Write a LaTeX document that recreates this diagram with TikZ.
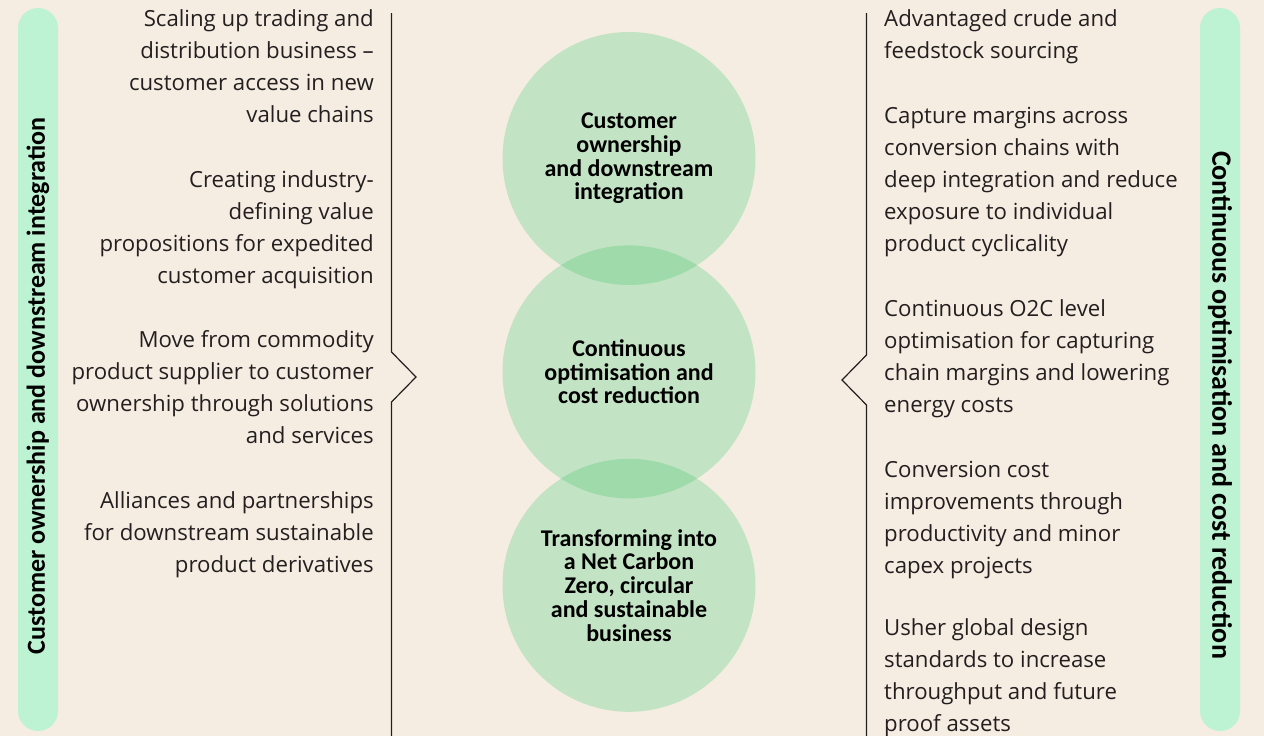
\documentclass[tikz,border=0pt]{standalone}
\usepackage{fontspec}
\setmainfont{Carlito}
\newfontfamily\bodyfont{Open Sans}
\usetikzlibrary{positioning}

\definecolor{paper}{RGB}{245,237,225}
\definecolor{mint}{RGB}{189,242,211}
\definecolor{leaf}{RGB}{195,228,196}
\definecolor{leafdark}{RGB}{158,218,170}
\definecolor{ink}{RGB}{35,31,32}

\begin{document}
\begin{tikzpicture}[x=1pt, y=1pt,
  bubble/.style={circle, fill=leaf, minimum size=253pt, inner sep=0pt, align=center,
    font=\fontsize{24}{23.7}\selectfont\bfseries},
  sidetxt/.style={text=ink, inner sep=0pt, font=\bodyfont\fontsize{22.2}{32}\selectfont,
    execute at begin node=\strut},
  lefttxt/.style={sidetxt, align=right, anchor=north east},
  righttxt/.style={sidetxt, align=left, anchor=north west},
  bar/.style={fill=mint, rounded corners=20pt, minimum width=40pt, minimum height=723pt, inner sep=0pt},
  barlabel/.style={font=\fontsize{26}{26}\selectfont\bfseries, inner sep=0pt},
  bracket/.style={draw=ink, line width=1.2pt}
]
  % Background
  \useasboundingbox (0,0) rectangle (1264,-736);
  \fill[paper] (0,0) rectangle (1264,-736);

  % Side bars
  \node[bar] (lbar) at (38,-369.5) {};
  \node[bar] (rbar) at (1220,-369.5) {};
  \node[barlabel, rotate=90] (llab) at (38,-386) {Customer ownership and downstream integration};
  \node[barlabel, rotate=-90, font=\fontsize{28}{28}\selectfont\bfseries] (rlab) at (1220,-405) {Continuous optimisation and cost reduction};

  % Circles
  \node[bubble] (top) at (629,-158.5) {Customer\\ownership\\and downstream\\integration};
  \node[bubble, below=-40pt of top] (mid) {Continuous\\optimisation and\\cost reduction};
  \node[bubble, below=-40pt of mid] (bot) {Transforming into\\a Net Carbon\\Zero, circular\\and sustainable\\business};
  % Overlaps
  \begin{scope}
    \clip (top.center) circle[radius=126.5pt];
    \fill[leafdark] (mid.center) circle[radius=126.5pt];
  \end{scope}
  \begin{scope}
    \clip (mid.center) circle[radius=126.5pt];
    \fill[leafdark] (bot.center) circle[radius=126.5pt];
  \end{scope}

  % Brackets
  \draw[bracket] (391.5,-13) -- (391.5,-352) -- (416,-377) -- (391.5,-402) -- (391.5,-736);
  \draw[bracket] (866.5,-13) -- (866.5,-355) -- (842,-380) -- (866.5,-405) -- (866.5,-736);

  % Left texts
  \node[lefttxt] (l1) at (374,-9.6) {Scaling up trading and\\distribution business –\\customer access in new\\value chains};
  \node[lefttxt] (l2) at (374,-170.6) {Creating industry-\\defining value\\propositions for expedited\\customer acquisition};
  \node[lefttxt] (l3) at (374,-330.6) {Move from commodity\\product supplier to customer\\ownership through solutions\\and services};
  \node[lefttxt] (l4) at (374,-491.6) {Alliances and partnerships\\for downstream sustainable\\product derivatives};

  % Right texts
  \node[righttxt] (r1) at (884,-9.6) {Advantaged crude and\\feedstock sourcing};
  \node[righttxt] (r2) at (884,-106.6) {Capture margins across\\conversion chains with\\deep integration and reduce\\exposure to individual\\product cyclicality};
  \node[righttxt] (r3) at (884,-299.6) {Continuous O2C level\\optimisation for capturing\\chain margins and lowering\\energy costs};
  \node[righttxt] (r4) at (884,-460.6) {Conversion cost\\improvements through\\productivity and minor\\capex projects};
  \node[righttxt] (r5) at (884,-618.6) {Usher global design\\standards to increase\\throughput and future\\proof assets};
\end{tikzpicture}
\end{document}
